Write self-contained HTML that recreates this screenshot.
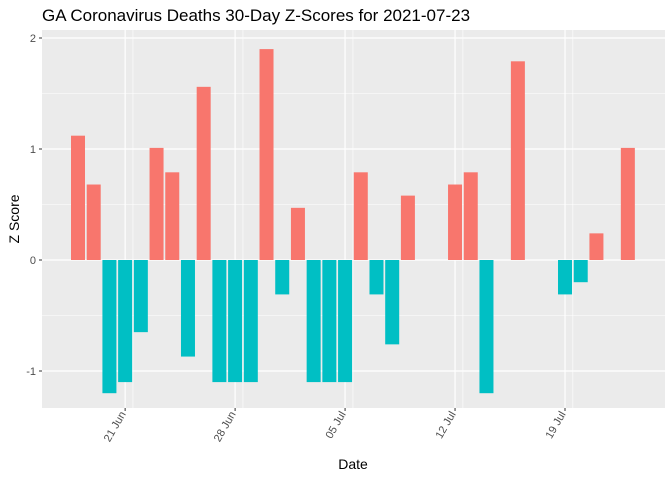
<!DOCTYPE html>
<html><head><meta charset="utf-8"><style>
html,body{margin:0;padding:0;background:#fff;}
svg{display:block;font-family:"Liberation Sans",Arial,sans-serif;}
</style></head><body>
<svg id="chart" width="672" height="480" viewBox="0 0 672 480" xmlns="http://www.w3.org/2000/svg">
<text x="42" y="21" font-size="17" fill="#000">GA Coronavirus Deaths 30-Day Z-Scores for 2021-07-23</text>
<rect x="42" y="30" width="623" height="378" fill="#EBEBEB"/>
<g id="grid"></g><g id="bars"></g><g id="axes"></g>
<text x="353" y="469" font-size="14" text-anchor="middle" fill="#000">Date</text>
<text transform="translate(19,219) rotate(-90)" font-size="14" text-anchor="middle" fill="#000">Z Score</text>
</svg>
<script>
const dates = ["06-18","06-19","06-20","06-21","06-22","06-23","06-24","06-25","06-26","06-27","06-28","06-29","06-30","07-01","07-02","07-03","07-04","07-05","07-06","07-07","07-08","07-09","07-10","07-11","07-12","07-13","07-14","07-15","07-16","07-17","07-18","07-19","07-20","07-21","07-22","07-23"];
const zscores = [1.12,0.68,-1.2,-1.1,-0.65,1.01,0.79,-0.87,1.56,-1.1,-1.1,-1.1,1.9,-0.31,0.47,-1.1,-1.1,-1.1,0.79,-0.31,-0.76,0.58,0,0,0.68,0.79,-1.2,0,1.79,0,0,-0.31,-0.2,0.24,0,1.01];
const xTickLabels = ["21 Jun","28 Jun","05 Jul","12 Jul","19 Jul"];
const xTickDays = [3,10,17,24,31];
const yTicks = [-1,0,1,2];

const NS="http://www.w3.org/2000/svg";
const x = d => 78 + d*15.71;
const y = v => 260 - v*111;
function mk(tag, attrs, parent){const e=document.createElementNS(NS,tag);for(const k in attrs)e.setAttribute(k,attrs[k]);parent.appendChild(e);return e;}
const grid=document.getElementById('grid'), bars=document.getElementById('bars'), axes=document.getElementById('axes');
for(let i=0;i<yTicks.length-1;i++){const l=mk('line',{x1:42,x2:665,y1:y((yTicks[i]+yTicks[i+1])/2),y2:y((yTicks[i]+yTicks[i+1])/2),stroke:'#fff','stroke-width':0.6},grid);
}
for(let d=-3.5; d<=38; d+=7){const l=mk('line',{x1:x(d),x2:x(d),y1:30,y2:408,stroke:'#fff','stroke-width':0.6},grid);
}
yTicks.forEach(t=>{const l=mk('line',{x1:42,x2:665,y1:y(t),y2:y(t),stroke:'#fff','stroke-width':1.2},grid);

mk('line',{x1:39,x2:42,y1:y(t),y2:y(t),stroke:'#333','stroke-width':1},axes);
const tx=mk('text',{x:36,y:y(t)+4,'font-size':11,'text-anchor':'end',fill:'#4D4D4D'},axes);tx.textContent=t;
});
xTickDays.forEach((d,i)=>{const l=mk('line',{x1:x(d),x2:x(d),y1:30,y2:408,stroke:'#fff','stroke-width':1.2},grid);

mk('line',{x1:x(d),x2:x(d),y1:408,y2:411,stroke:'#333','stroke-width':1},axes);
const tx=mk('text',{transform:`translate(${x(d)+1},414) rotate(-60)`,'font-size':11,'text-anchor':'end',fill:'#4D4D4D'},axes);tx.textContent=xTickLabels[i];
});
zscores.forEach((v,i)=>{if(v===0)return;const top=Math.min(y(v),y(0)),h=Math.abs(y(v)-y(0));
const r=mk('rect',{x:x(i)-7,y:top,width:14,height:h,fill:v>0?'#F8766D':'#00BFC4'},bars);
});
</script>
</body></html>
